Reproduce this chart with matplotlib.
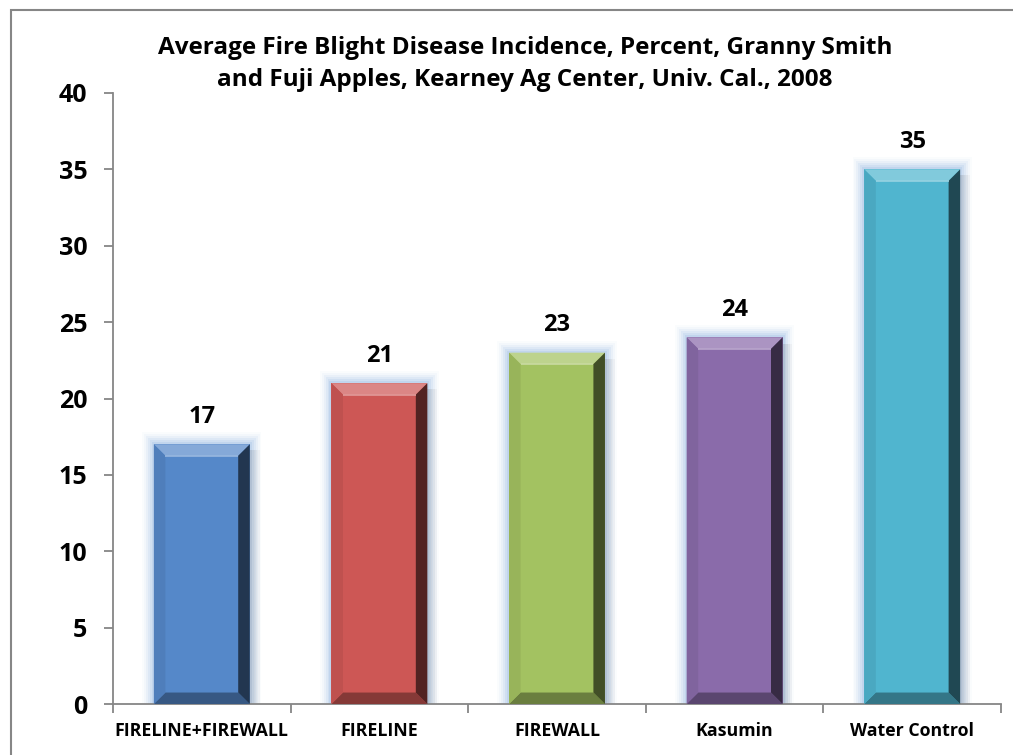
import numpy as np
import matplotlib.pyplot as plt
from matplotlib.patches import Rectangle, Polygon
import matplotlib.colors as mcolors
from matplotlib import font_manager

# pick a family that really ships a bold face
fam = 'DejaVu Sans'
for cand in ['Open Sans', 'Lato', 'Noto Sans', 'Liberation Sans']:
    ws = [f.weight for f in font_manager.fontManager.ttflist if f.name == cand]
    if any((w if isinstance(w, int) else 400) >= 700 or w == 'bold' for w in ws):
        fam = cand
        break
plt.rcParams['font.family'] = [fam, 'DejaVu Sans']
plt.rcParams['font.weight'] = 'bold'

# ── data ─────────────────────────────────────────────────────────────────────
categories = ['FIRELINE+FIREWALL', 'FIRELINE', 'FIREWALL', 'Kasumin', 'Water Control']
incidence = [17, 21, 23, 24, 35]
bar_colors = ['#5588C9', '#CD5755', '#A3C261', '#8A6BAA', '#50B5CF']

title = ('Average Fire Blight Disease Incidence, Percent, Granny Smith\n'
         'and Fuji Apples, Kearney Ag Center, Univ. Cal., 2008')

W, H = 1013, 755
fig = plt.figure(figsize=(W / 100, H / 100), dpi=100)
ax = fig.add_axes([113 / W, 1 - 704 / H, (1001 - 113) / W, (704 - 93) / H])

# outer chart-area border
fig.patches.append(Rectangle((11 / W, -0.05), 1.1, 1 - 10 / H + 0.05,
                             transform=fig.transFigure, fill=False,
                             ec='#868686', lw=1.5))

ax.set_xlim(-0.5, len(categories) - 0.5)
ax.set_ylim(0, 40)

bw = 0.54
bx = 0.065          # bevel size in x (data units)
by = 0.75           # bevel size in y (data units)


def shade(c, f):
    r, g, b = mcolors.to_rgb(c)
    if f >= 0:
        return (r + (1 - r) * f, g + (1 - g) * f, b + (1 - b) * f)
    return (r * (1 + f), g * (1 + f), b * (1 + f))


for i, (v, c) in enumerate(zip(incidence, bar_colors)):
    x0, x1 = i - bw / 2, i + bw / 2
    # glow halo
    for k, a in zip(range(6, 0, -1), [0.04, 0.06, 0.09, 0.12, 0.16, 0.22]):
        gx = 0.011 * k
        gy = 0.13 * k
        ax.add_patch(Rectangle((x0 - gx, 0), bw + 2 * gx, v + gy,
                               fc='#8DB4E2', ec='none', alpha=a, zorder=1))
    # right shadow
    for k in range(1, 5):
        ax.add_patch(Rectangle((x1, 0), 0.014 * k, v - 0.4, fc='#7F7F7F',
                               ec='none', alpha=0.06, zorder=1.5))
    ax.bar(i, v, width=bw, color=c, zorder=2)
    # bevel faces
    top = [(x0, v), (x1, v), (x1 - bx, v - by), (x0 + bx, v - by)]
    bot = [(x0, 0), (x1, 0), (x1 - bx, by), (x0 + bx, by)]
    left = [(x0, 0), (x0, v), (x0 + bx, v - by), (x0 + bx, by)]
    right = [(x1, 0), (x1, v), (x1 - bx, v - by), (x1 - bx, by)]
    ax.add_patch(Polygon(top, closed=True, fc=shade(c, 0.28), ec='none', zorder=3))
    ax.add_patch(Polygon(bot, closed=True, fc=shade(c, -0.35), ec='none', zorder=3))
    ax.add_patch(Polygon(left, closed=True, fc=shade(c, -0.07), ec='none', zorder=3))
    ax.add_patch(Polygon(right, closed=True, fc=shade(c, -0.6), ec='none', zorder=3))
    ax.plot([x0 + bx, x1 - bx], [v - by, v - by], color=shade(c, 0.4),
            lw=1.2, zorder=4, solid_capstyle='butt')
    ax.text(i, v + 1.0, str(v), ha='center', va='bottom',
            fontsize=17, fontweight='bold', color='black')

# axes styling
for s in ['top', 'right']:
    ax.spines[s].set_visible(False)
for s in ['left', 'bottom']:
    ax.spines[s].set_color('#868686')
    ax.spines[s].set_linewidth(1.3)

ax.set_yticks(range(0, 41, 5))
ax.tick_params(axis='y', direction='out', length=6.5, color='#868686',
               width=1.3, labelsize=18, pad=12)
ax.set_xticks(np.arange(len(categories) + 1) - 0.5)
ax.set_xticklabels([])
ax.tick_params(axis='x', direction='out', length=6.5, color='#868686', width=1.3)
ax.set_xticks(range(len(categories)), minor=True)
ax.set_xticklabels(categories, minor=True, fontsize=12.8, fontweight='bold')
ax.tick_params(axis='x', which='minor', length=0, pad=13)
for lab in ax.get_yticklabels():
    lab.set_fontweight('bold')

fig.text(525 / W, 1 - 64 / H, title, ha='center', va='center',
         fontsize=17.5, fontweight='bold', linespacing=1.45)

fig.savefig('out.png', dpi=100)
